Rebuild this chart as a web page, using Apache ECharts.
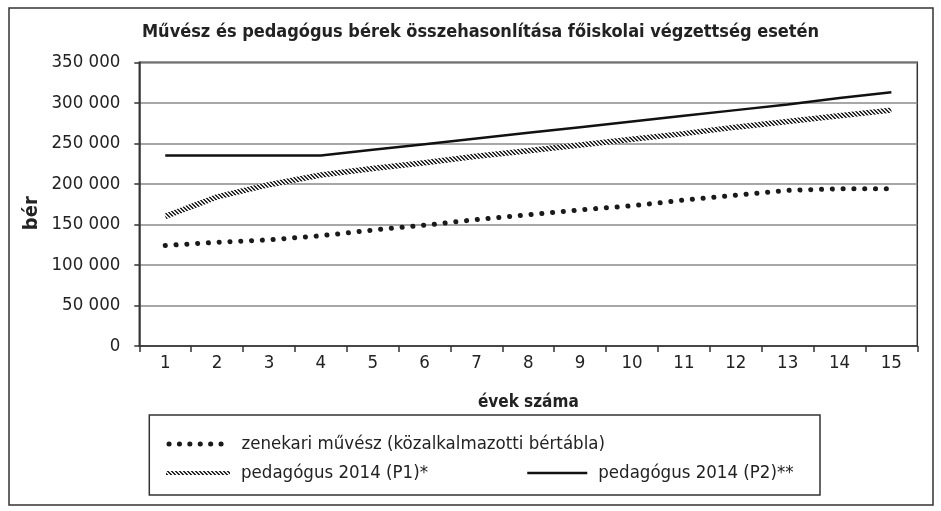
<!DOCTYPE html>
<html>
<head>
<meta charset="utf-8">
<script src="https://cdn.jsdelivr.net/npm/echarts@6/dist/echarts.min.js"></script>
<style>
html,body{margin:0;padding:0;background:#fff;}
#chart{width:941px;height:511px;}
</style>
</head>
<body>
<div id="chart"></div>
<script>
// ---- data ----
const titleText = 'Művész és pedagógus bérek összehasonlítása főiskolai végzettség esetén';
const categories = ['1','2','3','4','5','6','7','8','9','10','11','12','13','14','15'];
const seriesNames = ['zenekari művész (közalkalmazotti bértábla)', 'pedagógus 2014 (P1)*', 'pedagógus 2014 (P2)**'];
const zenekari = [124000,128000,131000,136000,143000,149000,156000,162000,168000,173000,180000,186000,192000,194000,194000];
const pedP1 = [160000,184000,199000,211000,219000,226000,234000,241000,248000,255000,262000,270000,277000,284000,291000];
const pedP2 = [235000,235000,235000,235000,242000,249000,256000,263000,270000,277000,284000,291000,298000,306000,313000];
const yTicks = [0,50000,100000,150000,200000,250000,300000,350000];
const xAxisName = 'évek száma';
const yAxisName = 'bér';

const FONT = "'DejaVu Sans Condensed', 'DejaVu Sans', sans-serif";

// hatch pattern for P1 line
function hatch(){
  const c = document.createElement('canvas');
  c.width = 4; c.height = 4;
  const g = c.getContext('2d');
  g.fillStyle = '#ececec'; g.fillRect(0,0,4,4);
  g.fillStyle = '#2a2a2a';
  for (let i=0;i<4;i++){ g.fillRect(i,i,1,1); g.fillRect((i+1)%4,i,1,1); }
  return c;
}
const hatchPattern = {image: hatch(), repeat: 'repeat'};

const chart = echarts.init(document.getElementById('chart'), null, {renderer:'canvas'});
const fmt = v => String(v).replace(/\B(?=(\d{3})+(?!\d))/g, ' ');
const legendText = {fontFamily: FONT, fontSize: 18.5, color: '#222', padding: [0,0,0,6]};

chart.setOption({
  animation: false,
  backgroundColor: '#fff',
  title: {
    text: titleText,
    left: 142, top: 23, padding: 0,
    textStyle: {fontFamily: FONT, fontWeight: 'bold', fontSize: 18, color: '#222'}
  },
  grid: {
    left: 139.3, right: 23.7, top: 62.3, bottom: 165,
    outerBoundsMode: 'none', containLabel: false,
    show: true, borderColor: '#333', borderWidth: 1.5, backgroundColor: 'transparent'
  },
  legend: [
    {data: [seriesNames[0]], left: 164, top: 434.5, padding: 0, itemWidth: 64, itemHeight: 14,
     itemStyle: {opacity: 0},
     lineStyle: {color: '#1a1a1a', width: 5, type: [0.1, 10.3], cap: 'round', dashOffset: -2.5},
     textStyle: legendText},
    {data: [seriesNames[1]], left: 164, top: 463.5, padding: 0, itemWidth: 64, itemHeight: 14,
     itemStyle: {opacity: 0}, lineStyle: {width: 4}, textStyle: legendText},
    {data: [seriesNames[2]], left: 526, top: 463.5, padding: 0, itemWidth: 60, itemHeight: 14,
     itemStyle: {opacity: 0}, lineStyle: {width: 2.5}, textStyle: legendText}
  ],
  xAxis: {
    type: 'category', data: categories, boundaryGap: true,
    name: xAxisName, nameLocation: 'middle', nameGap: 48, nameMoveOverlap: false,
    nameTextStyle: {fontFamily: FONT, fontWeight: 'bold', fontSize: 17, color: '#222'},
    axisLine: {lineStyle: {color: '#333', width: 1.5}},
    axisTick: {show: true, inside: false, length: 6, alignWithLabel: false, lineStyle: {color: '#333', width: 1.5}},
    axisLabel: {fontFamily: FONT, fontSize: 18.5, color: '#222', margin: 8, interval: 0},
    splitLine: {show: false}
  },
  yAxis: {
    type: 'value', min: yTicks[0], max: yTicks[yTicks.length-1], interval: yTicks[1]-yTicks[0],
    name: yAxisName, nameLocation: 'middle', nameGap: 98, nameRotate: 90, nameMoveOverlap: false,
    nameTextStyle: {fontFamily: FONT, fontWeight: 'bold', fontSize: 20, color: '#222', padding: [0,18,0,0]},
    axisLine: {show: true, lineStyle: {color: '#333', width: 1.5}},
    axisTick: {show: true, length: 5, lineStyle: {color: '#333', width: 1.5}},
    axisLabel: {fontFamily: FONT, fontSize: 18.5, color: '#222', margin: 19, formatter: fmt},
    splitLine: {show: true, lineStyle: {color: '#8a8a8a', width: 1.5}}
  },
  series: [
    {name: seriesNames[0], type: 'line', data: zenekari, symbol: 'none',
     lineStyle: {color: '#1a1a1a', width: 5, type: [0.1, 10.7], cap: 'round'},
     itemStyle: {color: '#1a1a1a'}},
    {name: seriesNames[1], type: 'line', data: pedP1, symbol: 'none',
     lineStyle: {color: hatchPattern, width: 5.5},
     itemStyle: {color: '#777'}},
    {name: seriesNames[2], type: 'line', data: pedP2, symbol: 'none',
     lineStyle: {color: '#111', width: 2.5},
     itemStyle: {color: '#111'}}
  ],
  graphic: [
    {type: 'rect', shape: {x: 9, y: 8, width: 924, height: 497}, silent: true, z: -1,
     style: {fill: 'none', stroke: '#333', lineWidth: 1.5}},
    {type: 'rect', shape: {x: 149.3, y: 415, width: 670.7, height: 80}, silent: true,
     style: {fill: 'none', stroke: '#333', lineWidth: 1.5}}
  ]
});
</script>
</body>
</html>
